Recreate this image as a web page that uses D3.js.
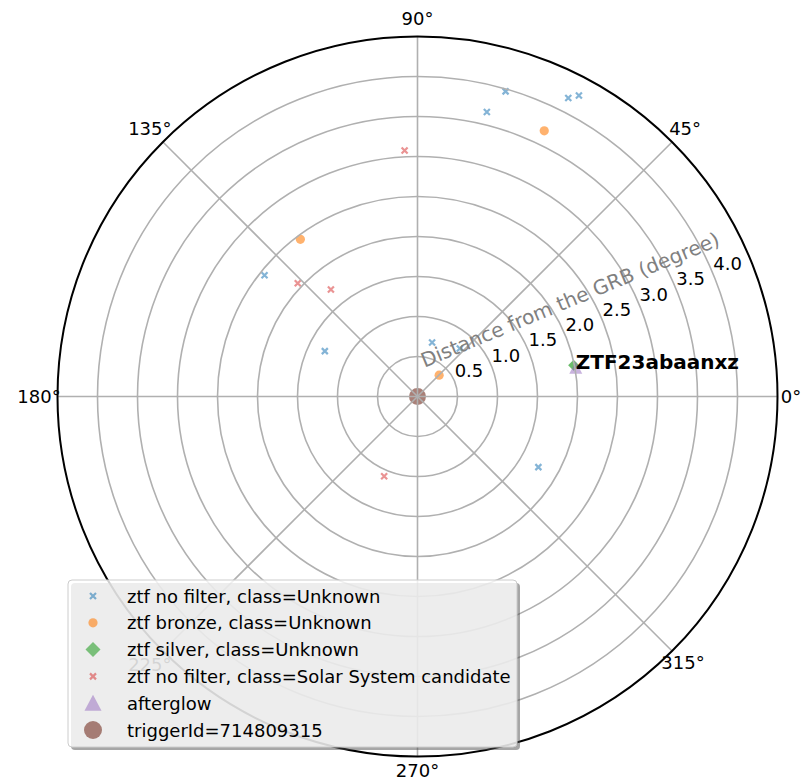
<!DOCTYPE html>
<html>
<head>
<meta charset="utf-8">
<script src="https://cdn.jsdelivr.net/npm/d3@7"></script>
<style>
  html, body { margin: 0; padding: 0; background: #fff; }
  svg text { font-family: "DejaVu Sans", sans-serif; }
</style>
</head>
<body>
<svg id="chart" width="803" height="780"></svg>
<script>
// Candidate positions around the GRB: angle (deg, counter-clockwise from east) and distance (deg)
const noFilterTheta = [73.9, 76.3, 63.2, 61.8, 141.6, 153.9, 74.9, 48.6, 329.7];
const noFilterR     = [3.97, 3.66, 4.18, 4.27, 2.44, 1.29, 0.70, 0.80, 1.75];

const bronzeTheta = [64.5, 126.7, 44.6];
const bronzeR     = [3.68, 2.45, 0.38];

const silverTheta = [11.3];
const silverR     = [1.99];

const solarTheta = [93.0, 136.6, 129.0, 247.3];
const solarR     = [3.08, 2.06, 1.72, 1.08];

const afterglowTheta = [10.2];
const afterglowR     = [2.01];
const afterglowName  = ["ZTF23abaanxz"];

const triggerTheta = [0];
const triggerR     = [0];

const radialTicks = [0.5, 1.0, 1.5, 2.0, 2.5, 3.0, 3.5, 4.0];
const angleTicks  = [0, 45, 90, 135, 180, 225, 270, 315];
const rMax = 4.5;

const legendLabels = [
  "ztf no filter, class=Unknown",
  "ztf bronze, class=Unknown",
  "ztf silver, class=Unknown",
  "ztf no filter, class=Solar System candidate",
  "afterglow",
  "triggerId=714809315"
];

const svg = d3.select("#chart");
const cx = 417.5, cy = 396.5, R = 360;
const rScale = d3.scaleLinear().domain([0, rMax]).range([0, R]);
const rad = d => d * Math.PI / 180;
const px = (r, t) => cx + rScale(r) * Math.cos(rad(t));
const py = (r, t) => cy - rScale(r) * Math.sin(rad(t));

const gridColor = "#b0b0b0";

// polar background
svg.append("circle").attr("cx", cx).attr("cy", cy).attr("r", R).attr("fill", "#fff");

// marker helpers
function crossPath(s) {
  return `M${-s},${-s}L${s},${s}M${-s},${s}L${s},${-s}`;
}
function diamondPath(s) {
  return `M0,${-s}L${s},0L0,${s}L${-s},0Z`;
}
function trianglePath(s) {
  return `M0,${-s}L${s},${s * 0.9}L${-s},${s * 0.9}Z`;
}

const marks = svg.append("g");

function drawCross(thetas, rs, color, opacity) {
  marks.selectAll(null).data(d3.zip(thetas, rs)).enter().append("path")
    .attr("d", crossPath(3))
    .attr("transform", d => `translate(${px(d[1], d[0])},${py(d[1], d[0])})`)
    .attr("stroke", color).attr("stroke-width", 2.2).attr("fill", "none")
    .attr("opacity", opacity);
}
function drawCircle(thetas, rs, color, opacity, size) {
  marks.selectAll(null).data(d3.zip(thetas, rs)).enter().append("circle")
    .attr("cx", d => px(d[1], d[0])).attr("cy", d => py(d[1], d[0]))
    .attr("r", size).attr("fill", color).attr("opacity", opacity);
}
function drawPath(thetas, rs, pathStr, color, opacity) {
  marks.selectAll(null).data(d3.zip(thetas, rs)).enter().append("path")
    .attr("d", pathStr)
    .attr("transform", d => `translate(${px(d[1], d[0])},${py(d[1], d[0])})`)
    .attr("fill", color).attr("opacity", opacity);
}

drawCircle(triggerTheta, triggerR, "#8c564b", 0.75, 8.5);
drawCross(noFilterTheta, noFilterR, "#1f77b4", 0.55);
drawCircle(bronzeTheta, bronzeR, "#ff7f0e", 0.6, 4.6);
drawPath(silverTheta, silverR, diamondPath(5.5), "#2ca02c", 0.7);
drawPath(afterglowTheta, afterglowR, trianglePath(6.5), "#9467bd", 0.5);
drawCross(solarTheta, solarR, "#d62728", 0.5);

// grid: rings and spokes drawn over the markers
const grid = svg.append("g").attr("fill", "none").attr("stroke", gridColor).attr("stroke-width", 1.6);
grid.selectAll("circle").data(radialTicks).enter().append("circle")
  .attr("cx", cx).attr("cy", cy).attr("r", d => rScale(d));
grid.selectAll("line").data(angleTicks).enter().append("line")
  .attr("x1", cx).attr("y1", cy)
  .attr("x2", d => px(rMax, d)).attr("y2", d => py(rMax, d));

// outer frame
svg.append("circle").attr("cx", cx).attr("cy", cy).attr("r", R)
  .attr("fill", "none").attr("stroke", "#000").attr("stroke-width", 2);

// angle tick labels, set just outside the frame
const labelGap = d => (d === 0 || d === 270) ? 13.5 : (d === 315 ? 15.5 : 18.5);
svg.append("g").selectAll("text").data(angleTicks).enter().append("text")
  .attr("x", d => cx + (R + labelGap(d)) * Math.cos(rad(d)))
  .attr("y", d => cy - (R + labelGap(d)) * Math.sin(rad(d)))
  .attr("text-anchor", "middle").attr("dominant-baseline", "central")
  .attr("font-size", 18).attr("fill", "#000")
  .text(d => d + "°");

// radial tick labels along 22.5°
svg.append("g").selectAll("text").data(radialTicks).enter().append("text")
  .attr("x", d => px(d, 22.5) + 14.5)
  .attr("y", d => py(d, 22.5) - 10.6)
  .attr("text-anchor", "middle").attr("dominant-baseline", "central")
  .attr("font-size", 18).attr("fill", "#000")
  .text(d => d.toFixed(1));

// radial axis title
{
  const a = rad(22.5), along = 178, perp = 31;
  const tx = cx + along * Math.cos(a) - perp * Math.sin(a);
  const ty = cy - along * Math.sin(a) - perp * Math.cos(a);
  svg.append("text")
    .attr("transform", `translate(${tx},${ty}) rotate(-22.5)`)
    .attr("text-anchor", "middle").attr("dominant-baseline", "central")
    .attr("font-size", 20).attr("fill", "#808080")
    .text("Distance from the GRB (degree)");
}

// afterglow name
svg.selectAll(null).data(d3.zip(afterglowTheta, afterglowR, afterglowName)).enter().append("text")
  .attr("x", d => px(d[1], d[0]))
  .attr("y", d => py(d[1], d[0]) - 6)
  .attr("font-size", 20).attr("font-weight", "bold").attr("fill", "#000")
  .attr("dominant-baseline", "central")
  .text(d => d[2]);

// legend
const lg = svg.append("g");
const lx = 68, ly = 580, lw = 449, lh = 167;
lg.append("rect").attr("x", lx + 3).attr("y", ly + 3).attr("width", lw).attr("height", lh)
  .attr("rx", 4).attr("fill", "#4d4d4d").attr("opacity", 0.5);
lg.append("rect").attr("x", lx).attr("y", ly).attr("width", lw).attr("height", lh)
  .attr("rx", 4).attr("fill", "#fff").attr("fill-opacity", 0.8)
  .attr("stroke", "#cccccc").attr("stroke-width", 1);

const rowY = i => 596 + i * 26.8;
const mx = 93;
lg.append("path").attr("d", crossPath(3)).attr("transform", `translate(${mx},${rowY(0)})`)
  .attr("stroke", "#1f77b4").attr("stroke-width", 2.2).attr("opacity", 0.55);
lg.append("circle").attr("cx", mx).attr("cy", rowY(1)).attr("r", 4.6)
  .attr("fill", "#ff7f0e").attr("opacity", 0.6);
lg.append("path").attr("d", diamondPath(7.5)).attr("transform", `translate(${mx},${rowY(2)})`)
  .attr("fill", "#2ca02c").attr("opacity", 0.6);
lg.append("path").attr("d", crossPath(3)).attr("transform", `translate(${mx},${rowY(3)})`)
  .attr("stroke", "#d62728").attr("stroke-width", 2.2).attr("opacity", 0.5);
lg.append("path").attr("d", trianglePath(8.5)).attr("transform", `translate(${mx},${rowY(4)})`)
  .attr("fill", "#9467bd").attr("opacity", 0.5);
lg.append("circle").attr("cx", mx).attr("cy", rowY(5)).attr("r", 9)
  .attr("fill", "#8c564b").attr("opacity", 0.75);

lg.selectAll("text").data(legendLabels).enter().append("text")
  .attr("x", 127).attr("y", (d, i) => rowY(i))
  .attr("dominant-baseline", "central")
  .attr("font-size", 18).attr("fill", "#000")
  .text(d => d);
</script>
</body>
</html>
